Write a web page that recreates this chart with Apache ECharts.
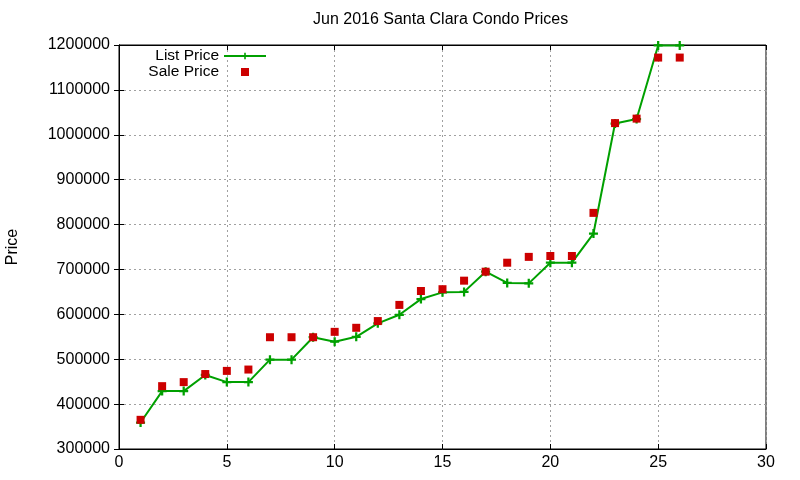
<!DOCTYPE html>
<html>
<head>
<meta charset="utf-8">
<title>Jun 2016 Santa Clara Condo Prices</title>
<script src="https://cdn.jsdelivr.net/npm/echarts@6/dist/echarts.min.js"></script>
<style>
  html, body { margin: 0; padding: 0; background: #fff; }
  #chart { width: 800px; height: 480px; }
</style>
</head>
<body>
<div id="chart"></div>
<script>
// x 位置（1..26）
const xs = [1, 2, 3, 4, 5, 6, 7, 8, 9, 10, 11, 12, 13, 14, 15, 16, 17, 18, 19, 20, 21, 22, 23, 24, 25, 26];
const listPrice = [359000, 429000, 429000, 465000, 449000, 449000, 499000, 499000, 549000, 539000,
                   550000, 580000, 599000, 634000, 649000, 650000, 695000, 670000, 669000, 715000,
                   715000, 780000, 1025000, 1035000, 1199000, 1199000];
const salePrice = [365000, 440000, 449000, 467000, 474000, 477000, 549000, 549000, 549000, 561000,
                   570000, 585000, 621000, 652000, 656000, 675000, 695000, 715000, 728000, 730000,
                   730000, 826000, 1026000, 1036000, 1172000, 1172000];
const xTicks = [0, 5, 10, 15, 20, 25, 30];
const yTicks = [300000, 400000, 500000, 600000, 700000, 800000, 900000, 1000000, 1100000, 1200000];

const font = "'Liberation Sans', Arial, sans-serif";
const green = '#00a000';
const red = '#cc0000';
const crossPath = 'path://M3,0h2v3h3v2h-3v3h-2v-3h-3v-2h3z';

const chart = echarts.init(document.getElementById('chart'));

const gridLine = { show: true, lineStyle: { color: '#a0a0a0', type: [2, 3], width: 1 } };
const mirrorAxis = {
    axisLine: { show: true, lineStyle: { color: '#000' } },
    axisTick: { show: true, inside: true, length: 5, lineStyle: { color: '#000' } },
    axisLabel: { show: false },
    splitLine: { show: false }
};

chart.setOption({
    animation: false,
    backgroundColor: '#fff',
    textStyle: { fontFamily: font },
    title: {
        text: 'Jun 2016 Santa Clara Condo Prices',
        left: 313, top: 12, padding: 0,
        textStyle: { fontFamily: font, fontSize: 16, fontWeight: 'normal', color: '#000' }
    },
    legend: {
        orient: 'vertical',
        align: 'right',
        right: 533, top: 48, padding: 0,
        itemWidth: 42, itemHeight: 8, itemGap: 0,
        textStyle: { fontFamily: font, fontSize: 15.5, color: '#000', lineHeight: 16 },
        data: [
            { name: 'List Price' },
            { name: 'Sale Price', icon: 'path://M0,0h1v1h-1z' }
        ]
    },
    grid: { left: 119, right: 34, top: 45, bottom: 31, outerBoundsMode: 'none',
            show: true, borderColor: '#000', borderWidth: 1 },
    xAxis: [{
        type: 'value', min: xTicks[0], max: xTicks[xTicks.length - 1], interval: 5,
        axisLine: { show: true, lineStyle: { color: '#000' } },
        axisTick: { show: true, inside: true, length: 5, lineStyle: { color: '#000' } },
        axisLabel: { color: '#000', fontFamily: font, fontSize: 16, margin: 6 },
        splitLine: gridLine
    }, Object.assign({
        type: 'value', position: 'top', min: xTicks[0], max: xTicks[xTicks.length - 1], interval: 5
    }, mirrorAxis)],
    yAxis: [{
        type: 'value', min: yTicks[0], max: yTicks[yTicks.length - 1], interval: 100000,
        name: 'Price', nameLocation: 'middle', nameGap: 98,
        nameTextStyle: { fontFamily: font, fontSize: 16, color: '#000' },
        axisLine: { show: true, lineStyle: { color: '#000' } },
        axisTick: { show: true, inside: true, length: 5, lineStyle: { color: '#000' } },
        axisLabel: { color: '#000', fontFamily: font, fontSize: 16, margin: 9,
                     formatter: v => String(v) },
        splitLine: gridLine
    }, Object.assign({
        type: 'value', position: 'right', min: yTicks[0], max: yTicks[yTicks.length - 1], interval: 100000
    }, mirrorAxis)],
    series: [{
        name: 'List Price',
        type: 'line',
        z: 2,
        data: xs.map((x, i) => [x, listPrice[i]]),
        symbol: crossPath,
        symbolSize: 9,
        showSymbol: true,
        lineStyle: { color: green, width: 2 },
        itemStyle: { color: green },
        emphasis: { disabled: true }
    }, {
        name: 'Sale Price',
        type: 'scatter',
        z: 5,
        data: xs.map((x, i) => [x, salePrice[i]]),
        symbol: 'rect',
        symbolSize: 8,
        itemStyle: { color: red, opacity: 1 },
        emphasis: { disabled: true }
    }]
});
</script>
</body>
</html>
